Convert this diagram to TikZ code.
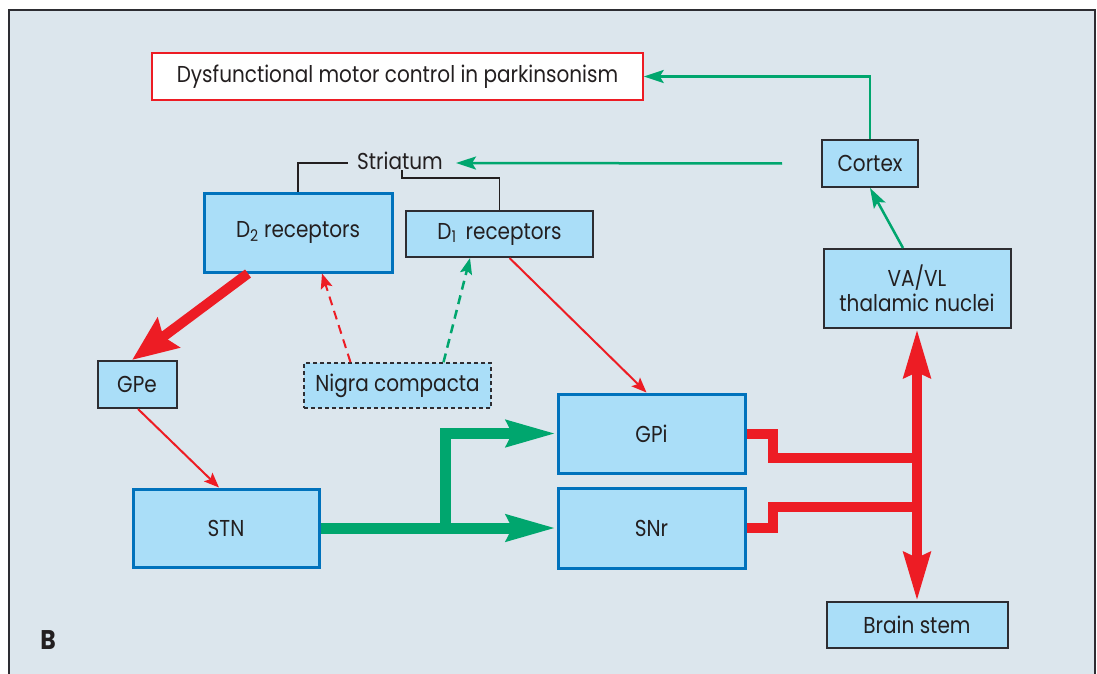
\documentclass[tikz,border=0pt]{standalone}
\usepackage{fontspec}
\setmainfont{Poppins}[FakeStretch=0.87]
\usepackage{tikz}
\usepackage{xcolor}
\usetikzlibrary{arrows.meta}

\definecolor{panelbg}{RGB}{220,230,237}
\definecolor{boxfill}{RGB}{170,222,248}
\definecolor{boxblue}{RGB}{0,114,188}
\definecolor{arrred}{RGB}{237,28,36}
\definecolor{arrgreen}{RGB}{0,166,110}
\definecolor{boxgray}{RGB}{45,45,50}
\definecolor{txt}{RGB}{35,31,32}

\begin{document}
\begin{tikzpicture}[x=1pt,y=-1pt,
    every node/.style={font=\fontsize{23}{25}\selectfont,text=txt},
    graybox/.style={draw=boxgray,line width=2pt,fill=boxfill,inner sep=0pt},
    bluebox/.style={draw=boxblue,line width=3pt,fill=boxfill,inner sep=0pt},
    redthin/.style={draw=arrred,line width=2pt,-{Stealth[length=15pt,width=12pt,inset=3pt]}},
    greenthin/.style={draw=arrgreen,line width=2.5pt,-{Stealth[length=20pt,width=13pt,inset=4pt]}},
    redthick/.style={draw=arrred,line width=10pt},
    greenthick/.style={draw=arrgreen,line width=11pt},
    bigred/.tip={Stealth[length=48pt,width=26pt,inset=5pt]},
    widered/.tip={Stealth[length=45pt,width=36pt,inset=6pt]},
    biggreen/.tip={Stealth[length=49pt,width=25pt,inset=5pt]}]
    \useasboundingbox (0,0) rectangle (1097,674);
    \draw[fill=panelbg,draw=boxgray,line width=2pt] (9,10) rectangle (1095,690);

    \node[draw=arrred,line width=1.5pt,fill=white,minimum width=491pt,minimum height=47pt] (title) at (397.5,76.5) {Dysfunctional motor control in parkinsonism};
    \node[graybox,minimum width=96pt,minimum height=47pt] (cortex) at (870,163.5) {Cortex};
    \node[graybox,minimum width=187pt,minimum height=79pt,align=center] (vavl) at (917,288.5) {VA/VL\\thalamic nuclei};
    \node[inner xsep=9pt,inner ysep=0pt] (striatum) at (400,161) {Striatum};
    \node[bluebox,minimum width=188pt,minimum height=79pt] (d2) at (298,232.5) {D\textsubscript{2} receptors};
    \node[graybox,minimum width=187pt,minimum height=46pt] (d1) at (499.5,234) {D\textsubscript{1}\, receptors};
    \node[graybox,minimum width=79pt,minimum height=47pt] (gpe) at (137,384.5) {GPe};
    \node[graybox,draw=boxgray,line width=1.5pt,dash pattern=on 4pt off 3pt,minimum width=187pt,minimum height=45pt] (nigra) at (397.5,385.5) {Nigra compacta};
    \node[bluebox,minimum width=187pt,minimum height=79pt] (gpi) at (651.5,433.5) {GPi};
    \node[bluebox,minimum width=187pt,minimum height=80pt] (snr) at (651.5,528) {SNr};
    \node[bluebox,minimum width=186pt,minimum height=78pt] (stn) at (226,528) {STN};
    \node[graybox,minimum width=181pt,minimum height=46pt] (bstem) at (917,625) {Brain stem};
    \node[font=\fontsize{27}{28}\selectfont\bfseries] (panel) at (48,640) {B};

    \coordinate (split) at (445,528);
    \coordinate (jt) at (917,458);
    \coordinate (jb) at (917,507);

    \draw[draw=txt,line width=1.2pt] ([yshift=-2pt]striatum.west) -| (d2.north);
    \draw[draw=txt,line width=1.2pt] ([xshift=2pt]striatum.south) -- ++(0,8) -| (d1.north);

    \draw[greenthin] (cortex.north) |- (title.east);
    \draw[greenthin] ([xshift=-39pt]cortex.west) -- ([xshift=4pt,yshift=-2pt]striatum.east);
    \draw[greenthin] ([xshift=-14pt]vavl.north) -- (cortex.south);

    \draw[redthick,-widered] ([xshift=-50pt]d2.south) -- ([xshift=-5pt]gpe.north);
    \draw[redthin,dash pattern=on 9pt off 6pt] ([xshift=-47pt]nigra.north) -- ([xshift=24pt]d2.south);
    \draw[greenthin,dash pattern=on 9pt off 6pt,-{Stealth[length=16pt,width=12pt,inset=3pt]}] ([xshift=46pt]nigra.north) -- ([xshift=-29.5pt]d1.south);
    \draw[redthin] ([xshift=10pt]d1.south) -- ([xshift=-5pt]gpi.north);
    \draw[redthin] ([xshift=1pt]gpe.south) -- ([xshift=-7pt]stn.north);

    \draw[greenthick,-biggreen] (stn.east) -- (snr.west);
    \draw[greenthick,-biggreen] (split) |- (gpi.west);

    \draw[redthick] (gpi.east) -- ++(26,0) |- (jt);
    \draw[redthick] (snr.east) -- ++(26,0) |- (jb);
    \draw[redthick,bigred-bigred] (vavl.south) -- (bstem.north);
\end{tikzpicture}
\end{document}
